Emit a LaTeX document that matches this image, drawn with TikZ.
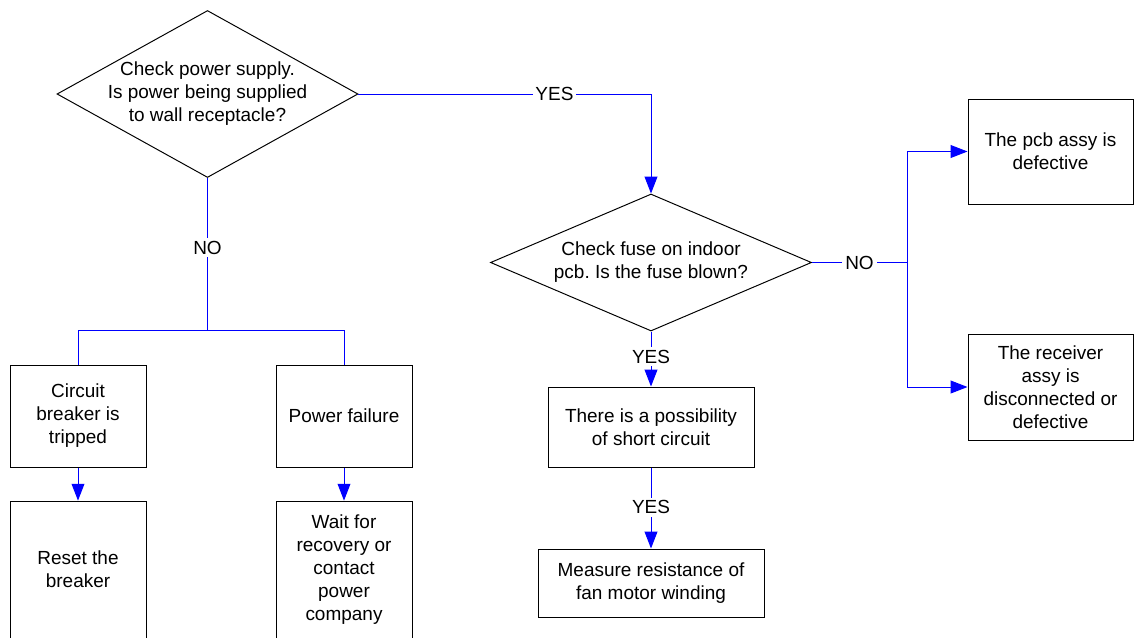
\documentclass[tikz,border=0pt]{standalone}
\usepackage{fontspec}
\setmainfont{Liberation Sans}
\usetikzlibrary{shapes.geometric,arrows.meta}
\frenchspacing
\begin{document}
\begin{tikzpicture}[font=\fontsize{13.5}{16.4}\selectfont]
   \tikzset{box/.style = {shape=rectangle,draw,line width=0.7pt,align=center,inner sep=2pt},
            decision/.style = {shape=diamond,draw,line width=0.7pt,inner sep=0pt},
            flow/.style = {draw=blue,line width=0.7pt},
            arrow/.style = {flow,-{Triangle[length=0.42cm,width=0.32cm]}},
            answer/.style = {fill=white,inner sep=2pt}}
   \useasboundingbox (0,0) rectangle (28.35,-15.925);

   \node[decision,minimum width=7.525cm,minimum height=4.175cm] (power) at (5.1875,-2.35) {};
   \node[align=center] (powertext) at (power) {Check power supply.\\Is power being supplied\\to wall receptacle?};
   \node[decision,minimum width=8.025cm,minimum height=3.425cm] (fuse) at (16.275,-6.5625) {};
   \node[align=center] (fusetext) at (fuse) {Check fuse on indoor\\pcb. Is the fuse blown?};

   \node[box,minimum width=3.4cm,minimum height=2.55cm] (breaker) at (1.95,-10.4) {Circuit\\breaker is\\tripped};
   \node[box,minimum width=3.4cm,minimum height=2.55cm] (failure) at (8.6,-10.4) {Power failure};
   \node[box,minimum width=3.4cm,minimum height=3.425cm] (reset) at (1.95,-14.24) {Reset the\\breaker};
   \node[box,minimum width=3.4cm,minimum height=3.425cm] (wait) at (8.6,-14.24) {Wait for\\recovery or\\contact\\power\\company};
   \node[box,minimum width=5.15cm,minimum height=2cm] (short) at (16.275,-10.675) {There is a possibility\\of short circuit};
   \node[box,minimum width=5.65cm,minimum height=1.7cm] (measure) at (16.275,-14.575) {Measure resistance of\\fan motor winding};
   \node[box,minimum width=4.125cm,minimum height=2.625cm] (pcb) at (26.2625,-3.7875) {The pcb assy is\\defective};
   \node[box,minimum width=4.125cm,minimum height=2.65cm] (receiver) at (26.2625,-9.675) {The receiver\\assy is\\disconnected or\\defective};

   \coordinate (split) at (5.1875,-8.25);
   \coordinate (branch) at (22.675,-6.5625);

   \draw[arrow] (power.east) -| node[answer,pos=0.335] (yes1) {YES} (fuse.north);
   \draw[flow] (power.south) -- node[answer,pos=0.46] (no1) {NO} (split);
   \draw[flow] (split) -| (breaker.north);
   \draw[flow] (split) -| (failure.north);
   \draw[arrow] (breaker.south) -- (reset.north);
   \draw[arrow] (failure.south) -- (wait.north);
   \draw[arrow] (fuse.south) -- node[answer,pos=0.46] (yes2) {YES} (short.north);
   \draw[arrow] (short.south) -- node[answer,pos=0.49] (yes3) {YES} (measure.north);
   \draw[flow] (fuse.east) -- node[answer,pos=0.5] (no2) {NO} (branch);
   \draw[arrow] (branch) |- (pcb.west);
   \draw[arrow] (branch) |- (receiver.west);
\end{tikzpicture}
\end{document}
